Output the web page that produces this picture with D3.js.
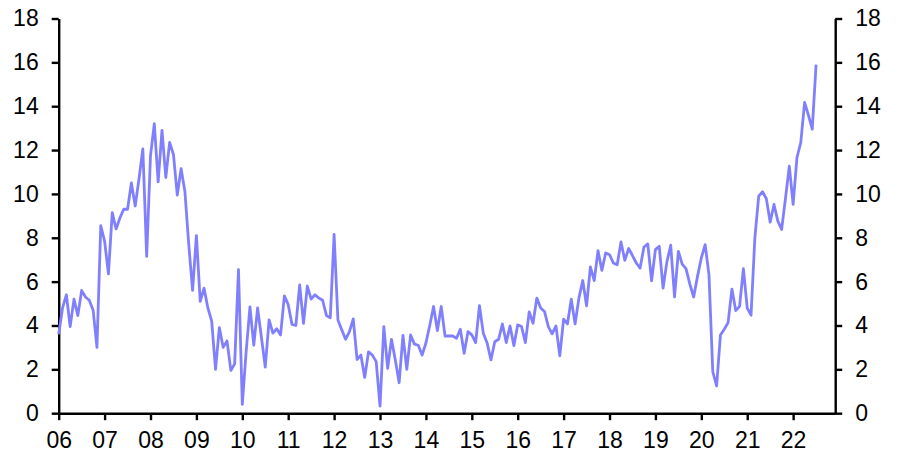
<!DOCTYPE html>
<html>
<head>
<meta charset="utf-8">
<script src="https://cdn.jsdelivr.net/npm/d3@7"></script>
<style>
  html, body { margin: 0; padding: 0; background: #fff; }
  svg { display: block; }
  .axis text { font-family: "Liberation Sans", Arial, sans-serif; font-size: 23px; fill: #000; }
  .axis path, .axis line { stroke: #000; stroke-width: 2.4px; }
</style>
</head>
<body>
<svg id="chart" width="899" height="456"></svg>
<script>
// Monthly values, Jan 2006 .. Jul 2022
const years = ["06","07","08","09","10","11","12","13","14","15","16","17","18","19","20","21","22"];
const v2006 = [3.6, 4.8, 5.4, 3.95, 5.2, 4.45, 5.6, 5.3, 5.15, 4.7, 3.0, 8.55];
const v2007 = [7.85, 6.35, 9.15, 8.4, 8.9, 9.3, 9.3, 10.5, 9.45, 10.7, 12.05, 7.15];
const v2008 = [11.75, 13.2, 10.55, 12.9, 10.75, 12.35, 11.8, 9.95, 11.15, 10.1, 7.7, 5.6];
const v2009 = [8.1, 5.1, 5.7, 4.8, 4.2, 2.0, 3.9, 3.0, 3.3, 1.95, 2.25, 6.55];
const v2010 = [0.4, 2.8, 4.85, 3.1, 4.8, 3.45, 2.1, 4.25, 3.65, 3.85, 3.57, 5.35];
const v2011 = [4.95, 4.05, 4.0, 5.85, 4.1, 5.8, 5.2, 5.4, 5.25, 5.15, 4.45, 4.35];
const v2012 = [8.15, 4.25, 3.8, 3.37, 3.72, 4.3, 2.45, 2.65, 1.63, 2.8, 2.65, 2.35];
const v2013 = [0.32, 3.95, 2.05, 3.37, 2.43, 1.39, 3.55, 2.0, 3.57, 3.15, 3.1, 2.65];
const v2014 = [3.2, 4.0, 4.87, 3.77, 4.87, 3.52, 3.52, 3.52, 3.42, 3.83, 2.73, 3.72];
const v2015 = [3.57, 3.22, 4.9, 3.65, 3.2, 2.43, 3.26, 3.37, 4.07, 3.22, 3.98, 3.08];
const v2016 = [4.03, 3.95, 3.22, 4.62, 4.1, 5.25, 4.8, 4.64, 3.95, 3.62, 3.98, 2.62];
const v2017 = [4.29, 4.07, 5.2, 4.07, 5.25, 6.05, 4.9, 6.67, 6.05, 7.41, 6.51, 7.31];
const v2018 = [7.23, 6.85, 6.77, 7.81, 6.97, 7.51, 7.19, 6.85, 6.62, 7.58, 7.72, 6.04];
const v2019 = [7.46, 7.61, 5.7, 6.9, 7.66, 5.3, 7.38, 6.8, 6.59, 5.89, 5.3, 6.24];
const v2020 = [7.08, 7.69, 6.32, 1.89, 1.24, 3.57, 3.83, 4.13, 5.66, 4.68, 4.87, 6.59];
const v2021 = [4.79, 4.47, 8.0, 9.9, 10.1, 9.78, 8.71, 9.52, 8.76, 8.38, 9.8, 11.27];
const v2022 = [9.52, 11.66, 12.34, 14.17, 13.59, 12.95, 15.9];
const yTicks = [0, 2, 4, 6, 8, 10, 12, 14, 16, 18];

const values = [].concat(v2006, v2007, v2008, v2009, v2010, v2011, v2012, v2013,
  v2014, v2015, v2016, v2017, v2018, v2019, v2020, v2021, v2022);

const svg = d3.select("#chart");
const plotLeft = 58.7, plotRight = 835.2, plotTop = 18.5, plotBottom = 413.2;

const x = d3.scaleLinear().domain([0, 203]).range([plotLeft, plotRight]);
const y = d3.scaleLinear().domain([0, 18]).range([plotBottom, plotTop]);

// Axes
svg.append("g").attr("class", "axis")
  .attr("transform", `translate(${plotLeft},0)`)
  .call(d3.axisLeft(y).tickValues(yTicks).tickFormat(d3.format("d"))
    .tickSize(7).tickSizeOuter(0).tickPadding(13));

svg.append("g").attr("class", "axis")
  .attr("transform", `translate(${plotRight},0)`)
  .call(d3.axisRight(y).tickValues(yTicks).tickFormat(d3.format("d"))
    .tickSize(7).tickSizeOuter(0).tickPadding(13));

svg.append("g").attr("class", "axis")
  .attr("transform", `translate(0,${plotBottom})`)
  .call(d3.axisBottom(x).tickValues(years.map((d, i) => i * 12))
    .tickFormat((d, i) => years[i])
    .tickSize(7).tickSizeOuter(0).tickPadding(11));

// Line
const line = d3.line().x((d, i) => x(i)).y(d => y(d));
svg.append("path")
  .datum(values)
  .attr("fill", "none")
  .attr("stroke", "#8080ff")
  .attr("stroke-width", 2.8)
  .attr("stroke-linejoin", "round")
  .attr("d", line);
</script>
</body>
</html>
